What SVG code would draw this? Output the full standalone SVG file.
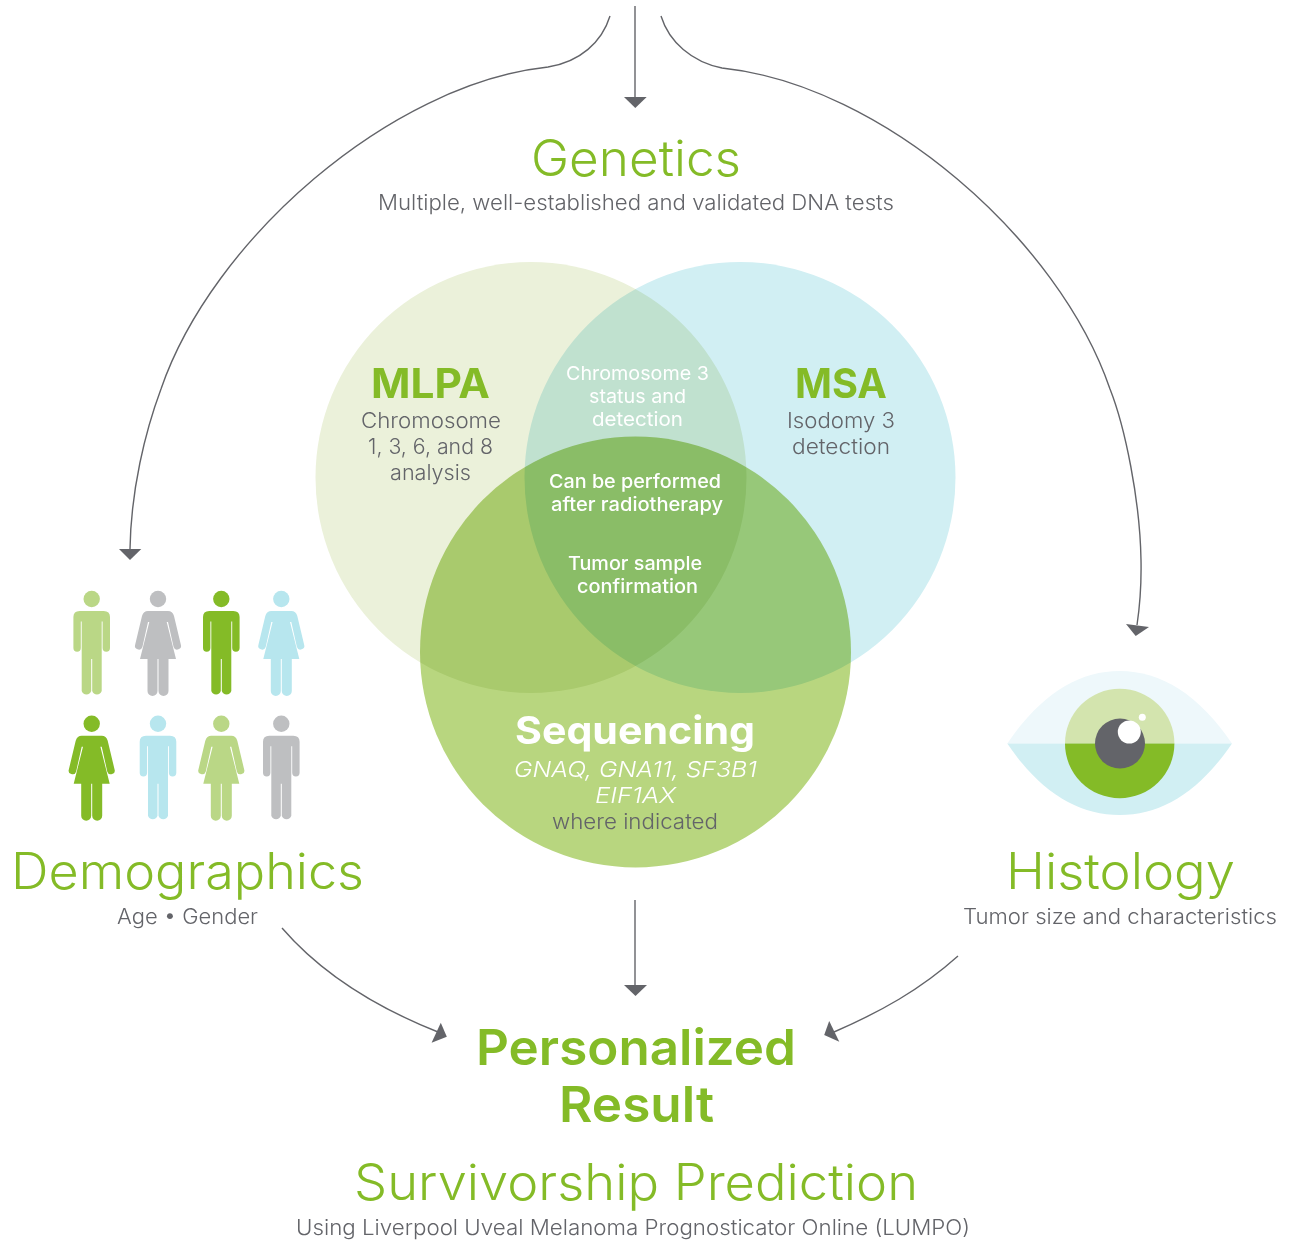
<svg xmlns="http://www.w3.org/2000/svg" width="1289" height="1240" viewBox="0 0 1289 1240">
<style>
text{font-family:"Inter","Open Sans","Liberation Sans",sans-serif;text-anchor:start}
.h{fill:#84bb27;font-size:50px;font-weight:300}
.s{fill:#636469;font-size:21px;font-weight:300}
.b{fill:#84bb27;font-size:41px;font-weight:700}
.w{fill:#fff;font-size:19px;font-weight:500}
.w2{fill:#fff;font-size:19px;font-weight:400}
.c{fill:none;stroke:#636469;stroke-width:1.4}
.v{mix-blend-mode:multiply}
.hd{fill:#636469}
</style>
<defs>
<g id="man"><circle r="8.2"/><path d="M-12 12H12Q18.300 12 18.300 18V49A3.700 3.700 0 0 1 10.900 49V22.500H10V92A5 5 0 0 1 .5 92V60H-.5V92A5 5 0 0 1-10 92V22.500H-10.900V49A3.700 3.700 0 0 1-18.300 49V18Q-18.300 12-12 12Z"/></g>
<g id="woman"><circle r="8.2"/><path d="M-10 12H10Q14.500 12 16 17L22.800 45.500A3.800 3.800 0 0 1 15.600 48L10 23H8.700L18 60H10.500V92A5 5 0 0 1 .5 92V60H-.5V92A5 5 0 0 1-10.500 92V60H-18L-8.700 23H-10L-15.600 48A3.800 3.800 0 0 1-22.800 45.500L-16 17Q-14.500 12-10 12Z"/></g>
</defs>
<rect width="1289" height="1240" fill="#fff"/>
<g id="connectors">
<path class="c" d="M610 16C602 42 580 62 548 67C390 84 212 240 161 389C145 432 131 490 130 549"/>
<path class="hd" d="M119 549H141.300L130 560Z"/>
<path class="c" d="M635 6V97"/>
<path class="hd" d="M624 97H646.700L635.300 108Z"/>
<path class="c" d="M661 16C669 42 692 62 722 68C883 85 1059 240 1110 389C1125 427 1140 500 1141 560C1141.500 585 1140 605 1137 625"/>
<path class="hd" d="M1126 624L1149 627L1135.700 636Z"/>
<path class="c" d="M635 900V985"/>
<path class="hd" d="M624 985H647L635.500 996Z"/>
<path class="c" d="M282 928C320 972 375 1007 438 1032"/>
<path class="hd" d="M440.800 1022.700L446.800 1036.700L431.600 1042.700Z"/>
<path class="c" d="M958 956C920 990 880 1012 834 1032"/>
<path class="hd" d="M829.200 1021L824.200 1035L839.300 1041.700Z"/>
</g>
<g id="venn">
<circle class="v" cx="531" cy="477.500" r="215.500" fill="#ebf1da"/>
<circle class="v" cx="740" cy="477.500" r="215.500" fill="#d1eff3"/>
<circle class="v" cx="635.500" cy="652" r="215.500" fill="#b8d67f"/>
</g>
<g id="genetics">
<text class="h" x="531" y="176.300" textLength="210" lengthAdjust="spacingAndGlyphs">Genetics</text>
<text class="s" x="378" y="210" textLength="516" lengthAdjust="spacingAndGlyphs">Multiple, well-established and validated DNA tests</text>
</g>
<g id="mlpa">
<text class="b" x="371" y="398" textLength="119" lengthAdjust="spacingAndGlyphs">MLPA</text>
<text class="s" x="361" y="428" textLength="140" lengthAdjust="spacingAndGlyphs">Chromosome</text>
<text class="s" x="368" y="454" textLength="125" lengthAdjust="spacingAndGlyphs">1, 3, 6, and 8</text>
<text class="s" x="390" y="480" textLength="81" lengthAdjust="spacingAndGlyphs">analysis</text>
</g>
<g id="msa">
<text class="b" x="795" y="398" textLength="92" lengthAdjust="spacingAndGlyphs">MSA</text>
<text class="s" x="787" y="428" textLength="108" lengthAdjust="spacingAndGlyphs">Isodomy 3</text>
<text class="s" x="792" y="454" textLength="98" lengthAdjust="spacingAndGlyphs">detection</text>
</g>
<g id="overlap-top">
<text class="w2" x="566" y="379.500" textLength="143" lengthAdjust="spacingAndGlyphs">Chromosome 3</text>
<text class="w2" x="589" y="402.500" textLength="97" lengthAdjust="spacingAndGlyphs">status and</text>
<text class="w2" x="592" y="425.500" textLength="91" lengthAdjust="spacingAndGlyphs">detection</text>
</g>
<g id="overlap-center">
<text class="w" x="549" y="487.500" textLength="172" lengthAdjust="spacingAndGlyphs">Can be performed</text>
<text class="w" x="551" y="510.500" textLength="172" lengthAdjust="spacingAndGlyphs">after radiotherapy</text>
<text class="w" x="568" y="569.500" textLength="134" lengthAdjust="spacingAndGlyphs">Tumor sample</text>
<text class="w" x="577" y="592.500" textLength="121" lengthAdjust="spacingAndGlyphs">confirmation</text>
</g>
<g id="sequencing">
<text x="515" y="744" font-size="38" font-weight="700" fill="#fff" textLength="240" lengthAdjust="spacingAndGlyphs">Sequencing</text>
<text x="514" y="777" font-size="22" font-weight="300" font-style="italic" fill="#fff" textLength="243" lengthAdjust="spacingAndGlyphs">GNAQ, GNA11, SF3B1</text>
<text x="595" y="803" font-size="22" font-weight="300" font-style="italic" fill="#fff" textLength="81" lengthAdjust="spacingAndGlyphs">EIF1AX</text>
<text class="s" x="552" y="829" textLength="166" lengthAdjust="spacingAndGlyphs">where indicated</text>
</g>
<g id="people">
<use href="#man" x="91.700" y="599" fill="#bad786"/>
<use href="#woman" x="158" y="599" fill="#bebfc1"/>
<use href="#man" x="221.300" y="599" fill="#84bb27"/>
<use href="#woman" x="281.300" y="599" fill="#b7e6ee"/>
<use href="#woman" x="91.700" y="723.700" fill="#84bb27"/>
<use href="#man" x="158" y="723.700" fill="#b7e6ee"/>
<use href="#woman" x="221.300" y="723.700" fill="#bad786"/>
<use href="#man" x="281.300" y="723.700" fill="#bebfc1"/>
</g>
<g id="demographics">
<text class="h" x="11" y="889" textLength="353" lengthAdjust="spacingAndGlyphs">Demographics</text>
<text class="s" x="117" y="923.500" textLength="141" lengthAdjust="spacingAndGlyphs">Age • Gender</text>
</g>
<g id="eye">
<path d="M1007.300 743.500C1040 695 1078 671 1119.700 671S1199 695 1232 743.500Z" fill="#eef8fb"/>
<path d="M1007.300 743.500C1040 792 1078 815 1119.700 815S1199 792 1232 743.500Z" fill="#d1eff3"/>
<path d="M1065 743.500A54.700 54.700 0 0 1 1174.400 743.500Z" fill="#d3e4ae"/>
<path d="M1065 743.500A54.700 54.700 0 0 0 1174.400 743.500Z" fill="#84bb27"/>
<circle cx="1120" cy="743.500" r="25" fill="#636469"/>
<circle cx="1129.300" cy="732" r="11.500" fill="#fff"/>
<circle cx="1142.300" cy="717.300" r="3.500" fill="#fff"/>
</g>
<g id="histology">
<text class="h" x="1006" y="889" textLength="229" lengthAdjust="spacingAndGlyphs">Histology</text>
<text class="s" x="963" y="923.500" textLength="314" lengthAdjust="spacingAndGlyphs">Tumor size and characteristics</text>
</g>
<g id="result">
<text x="476" y="1064.500" font-size="50" font-weight="600" fill="#84bb27" textLength="320" lengthAdjust="spacingAndGlyphs">Personalized</text>
<text x="559" y="1121.500" font-size="50" font-weight="600" fill="#84bb27" textLength="155" lengthAdjust="spacingAndGlyphs">Result</text>
<text class="h" x="354" y="1200" textLength="564" lengthAdjust="spacingAndGlyphs">Survivorship Prediction</text>
<text class="s" x="296" y="1234.500" textLength="674" lengthAdjust="spacingAndGlyphs">Using Liverpool Uveal Melanoma Prognosticator Online (LUMPO)</text>
</g>
</svg>
